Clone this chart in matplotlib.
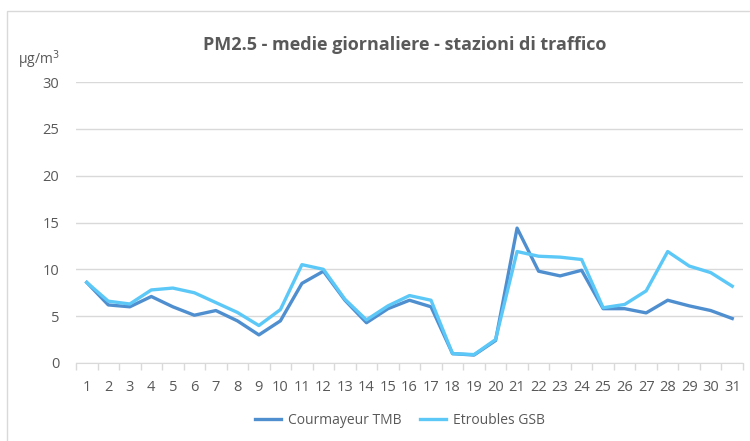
import numpy as np
import matplotlib.pyplot as plt
from matplotlib.patches import Rectangle

# ==============================
# DATA
# ==============================
days = list(range(1, 32))
courmayeur = [8.6, 6.2, 6.0, 7.1, 6.0, 5.1, 5.6, 4.5, 3.0, 4.5,
              8.5, 9.8, 6.7, 4.3, 5.8, 6.7, 6.0, 1.0, 0.85, 2.4,
              14.4, 9.8, 9.3, 9.9, 5.8, 5.8, 5.35, 6.7, 6.1, 5.6, 4.75]
etroubles = [8.6, 6.6, 6.3, 7.8, 8.0, 7.5, 6.45, 5.4, 4.0, 5.7,
             10.5, 10.0, 6.8, 4.6, 6.1, 7.2, 6.7, 1.0, 0.9, 2.5,
             11.9, 11.4, 11.3, 11.05, 5.9, 6.25, 7.7, 11.9, 10.35, 9.65, 8.2]
series_names = ["Courmayeur TMB", "Etroubles GSB"]
y_ticks = [0, 5, 10, 15, 20, 25, 30]

TEXT = "#595959"
GRID = "#D9D9D9"
C_DARK = "#4F8FD0"
C_LIGHT = "#5CC8F8"

plt.rcParams['font.family'] = ['Open Sans', 'DejaVu Sans']

fig = plt.figure(figsize=(7.5, 4.41), dpi=100)
ax = fig.add_axes([76/750, 1-363/441, (743-76)/750, (363-82)/441])

# chart border (right/bottom edges fall outside the image)
fig.patches.append(Rectangle((7/750, -0.1), 1.1, 1.1 - 11/441,
                             transform=fig.transFigure, fill=False,
                             edgecolor=GRID, lw=1))

ax.plot(days, courmayeur, color=C_DARK, lw=2.4, label=series_names[0],
        solid_joinstyle="round", zorder=3)
ax.plot(days, etroubles, color=C_LIGHT, lw=2.4, label=series_names[1],
        solid_joinstyle="round", zorder=3)

ax.set_xlim(0.5, 31.5)
ax.set_ylim(0, 30)
ax.set_yticks(y_ticks)
ax.set_xticks(days)
ax.set_xticklabels([str(d) for d in days])
ax.set_xticks(np.arange(0.5, 32, 1), minor=True)
ax.tick_params(axis="x", which="major", length=0, pad=12, labelsize=10.5, colors=TEXT)
ax.tick_params(axis="x", which="minor", length=5, color=GRID, width=1)
ax.tick_params(axis="y", length=0, pad=12, labelsize=10.5, colors=TEXT)
ax.grid(axis="y", color=GRID, lw=1)
ax.set_axisbelow(True)
for s in ["top", "right", "left"]:
    ax.spines[s].set_visible(False)
ax.spines["bottom"].set_color(GRID)
ax.spines["bottom"].set_zorder(2)

fig.text(405/750, 1-45/441, "PM2.5 - medie giornaliere - stazioni di traffico",
         ha="center", va="center", fontsize=13, fontweight="bold", color=TEXT)
fig.text(18/750, 1-60/441, "µg/m$^3$", ha="left", va="center", fontsize=10, color=TEXT)

fig.legend(loc="center", bbox_to_anchor=(400/750, 1-420/441), ncol=2, frameon=False,
           fontsize=10, labelcolor=TEXT, handlelength=1.9, handletextpad=0.5,
           columnspacing=1.3)

fig.savefig("out.png", dpi=100)
